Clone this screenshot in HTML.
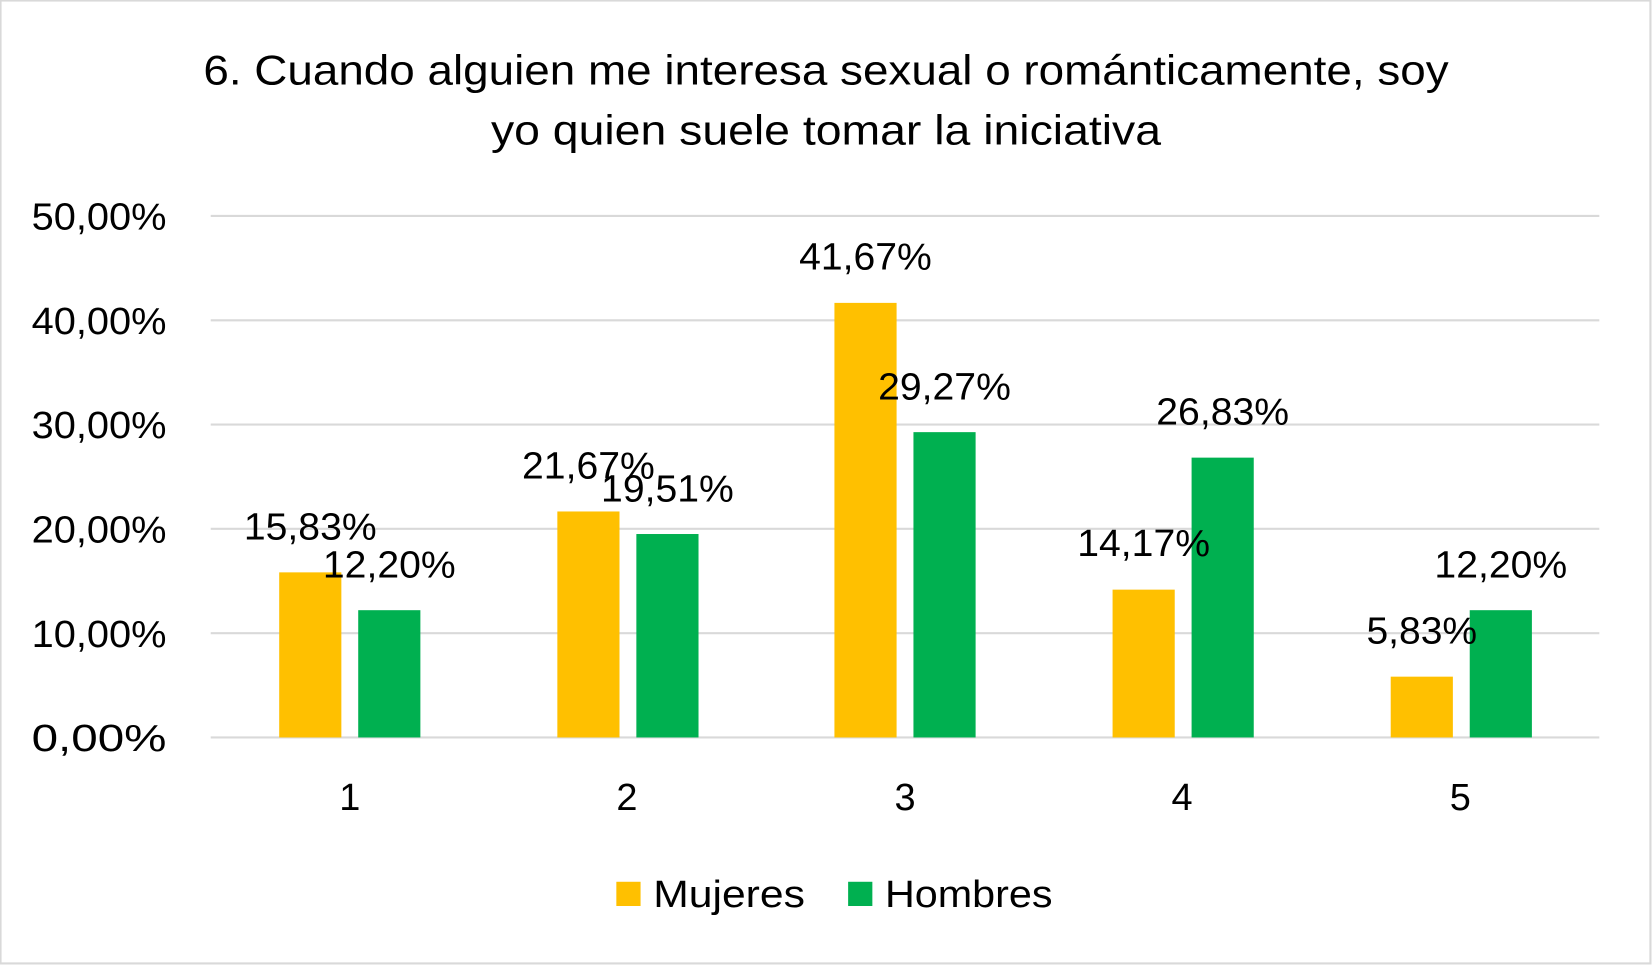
<!DOCTYPE html>
<html><head><meta charset="utf-8"><style>
html,body{margin:0;padding:0;background:#fff;}
svg{display:block;}
text{font-family:"Liberation Sans",sans-serif;fill:#000;}
</style></head><body>
<svg width="1652" height="965" viewBox="0 0 1568 916" preserveAspectRatio="none" xmlns="http://www.w3.org/2000/svg">
<rect x="0.5" y="0.5" width="1566" height="914" fill="#fff" stroke="#d9d9d9" stroke-width="2"/>
<text x="784" y="80" font-size="40" text-anchor="middle" textLength="1182" lengthAdjust="spacingAndGlyphs">6. Cuando alguien me interesa sexual o románticamente, soy</text>
<text x="784" y="137" font-size="40" text-anchor="middle" textLength="636" lengthAdjust="spacingAndGlyphs">yo quien suele tomar la iniciativa</text>
<g stroke="#d9d9d9" stroke-width="2">
<line x1="200" y1="205" x2="1518" y2="205"/>
<line x1="200" y1="304" x2="1518" y2="304"/>
<line x1="200" y1="403" x2="1518" y2="403"/>
<line x1="200" y1="502" x2="1518" y2="502"/>
<line x1="200" y1="601" x2="1518" y2="601"/>
<line x1="200" y1="700" x2="1518" y2="700"/>
</g>
<g font-size="36" text-anchor="end">
<text x="158" y="218" textLength="128" lengthAdjust="spacingAndGlyphs">50,00%</text>
<text x="158" y="317" textLength="128" lengthAdjust="spacingAndGlyphs">40,00%</text>
<text x="158" y="416" textLength="128" lengthAdjust="spacingAndGlyphs">30,00%</text>
<text x="158" y="515" textLength="128" lengthAdjust="spacingAndGlyphs">20,00%</text>
<text x="158" y="614" textLength="128" lengthAdjust="spacingAndGlyphs">10,00%</text>
<text x="158" y="713" textLength="128" lengthAdjust="spacingAndGlyphs">0,00%</text>
</g>
<g fill="#ffc000">
<rect x="265" y="543.3" width="59" height="156.7"/>
<rect x="529" y="485.5" width="59" height="214.5"/>
<rect x="792" y="287.5" width="59" height="412.5"/>
<rect x="1056" y="559.7" width="59" height="140.3"/>
<rect x="1320" y="642.3" width="59" height="57.7"/>
</g>
<g fill="#00b050">
<rect x="340" y="579.2" width="59" height="120.8"/>
<rect x="604" y="506.9" width="59" height="193.1"/>
<rect x="867" y="410.2" width="59" height="289.8"/>
<rect x="1131" y="434.4" width="59" height="265.6"/>
<rect x="1395" y="579.2" width="59" height="120.8"/>
</g>
<g font-size="36" text-anchor="middle">
<text x="294.5" y="512" textLength="126" lengthAdjust="spacingAndGlyphs">15,83%</text>
<text x="558.5" y="454" textLength="126" lengthAdjust="spacingAndGlyphs">21,67%</text>
<text x="821.5" y="256" textLength="126" lengthAdjust="spacingAndGlyphs">41,67%</text>
<text x="1085.5" y="528" textLength="126" lengthAdjust="spacingAndGlyphs">14,17%</text>
<text x="1349.5" y="611" textLength="105" lengthAdjust="spacingAndGlyphs">5,83%</text>
<text x="369.5" y="548" textLength="126" lengthAdjust="spacingAndGlyphs">12,20%</text>
<text x="633.5" y="476" textLength="126" lengthAdjust="spacingAndGlyphs">19,51%</text>
<text x="896.5" y="379" textLength="126" lengthAdjust="spacingAndGlyphs">29,27%</text>
<text x="1160.5" y="403" textLength="126" lengthAdjust="spacingAndGlyphs">26,83%</text>
<text x="1424.5" y="548" textLength="126" lengthAdjust="spacingAndGlyphs">12,20%</text>
</g>
<g font-size="36" text-anchor="middle">
<text x="332" y="769">1</text>
<text x="595" y="769">2</text>
<text x="859" y="769">3</text>
<text x="1122" y="769">4</text>
<text x="1386" y="769">5</text>
</g>
<rect x="585" y="837" width="23" height="23" fill="#ffc000"/>
<text x="620" y="861" font-size="36" textLength="144" lengthAdjust="spacingAndGlyphs">Mujeres</text>
<rect x="805" y="837" width="23" height="23" fill="#00b050"/>
<text x="840" y="861" font-size="36" textLength="159" lengthAdjust="spacingAndGlyphs">Hombres</text>
</svg>
</body></html>
